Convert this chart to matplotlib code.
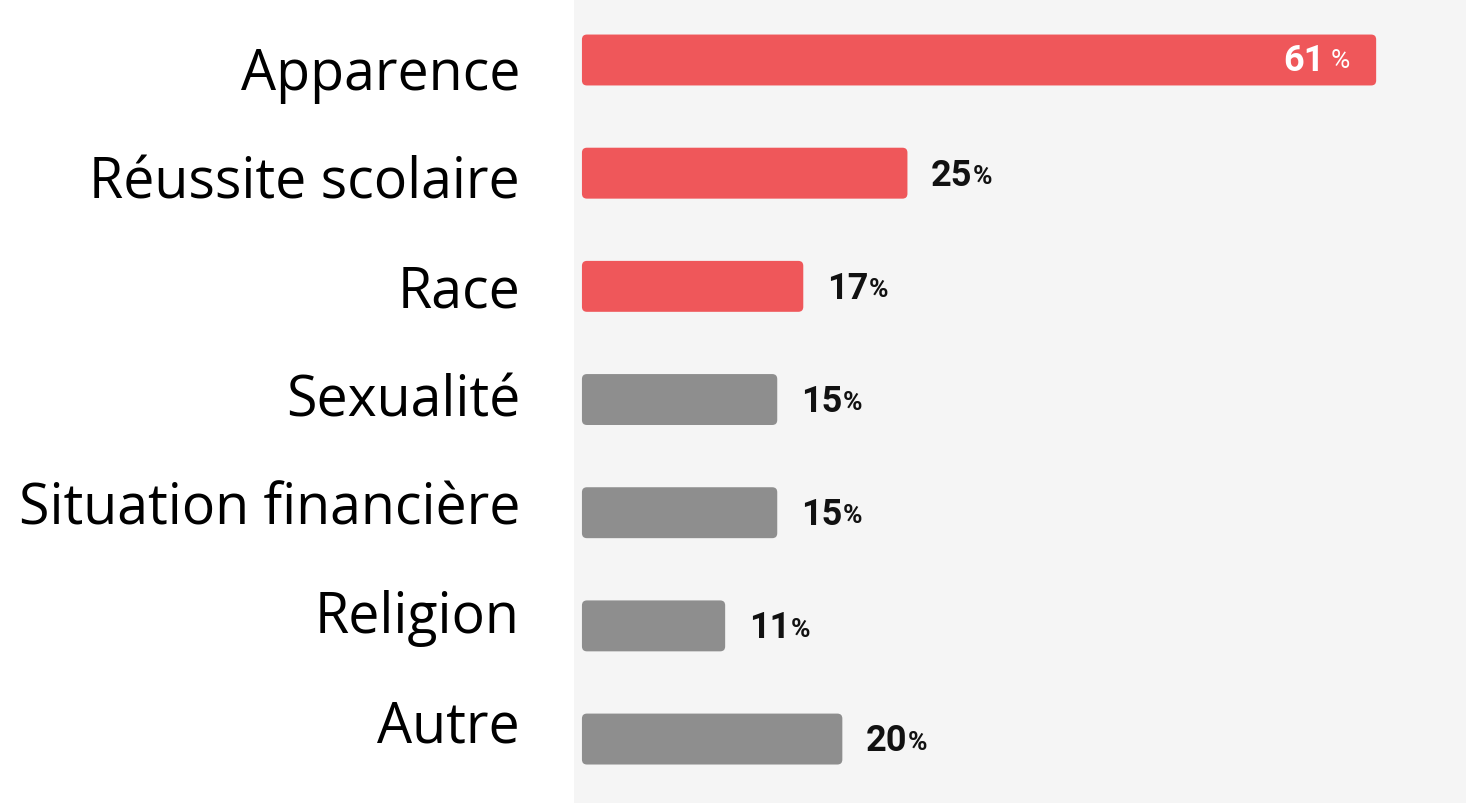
"""Horizontal bar chart: sujets de harcèlement (French labels, rounded bars)."""

import matplotlib
matplotlib.use("Agg")
import matplotlib.pyplot as plt
from matplotlib.patches import FancyBboxPatch


# ===============================
# Data
# ===============================
categories = ["Apparence", "Réussite scolaire", "Race", "Sexualité",
              "Situation financière", "Religion", "Autre"]
values = [61, 25, 17, 15, 15, 11, 20]
highlighted = [True, True, True, False, False, False, False]

RED = "#EF575A"
GREY = "#8E8E8E"
BG = "#F5F5F5"

W, H = 1466, 804
fig = plt.figure(figsize=(W / 100, H / 100), dpi=100)
fig.patch.set_facecolor("white")

# axes occupies the grey panel on the right
ax = fig.add_axes([574 / W, 0, 1 - 574 / W, 1])
ax.set_facecolor(BG)
for s in ax.spines.values():
    s.set_visible(False)

ypos = list(range(len(categories)))
colors = [RED if h else GREY for h in highlighted]
bars = ax.barh(ypos, values, height=0.45, color=colors)

ax.set_xlim(-0.61, 67.9)
ax.set_ylim(6.565, -0.539)
ax.set_xticks([])
ax.set_yticks([])

# swap plain rectangles for rounded ones
px_x = (W - 574) / (67.9 + 0.61)
px_y = H / (6.565 + 0.539)
for bar, c in zip(bars, colors):
    bar.set_visible(False)
    x0, y0 = bar.get_x(), bar.get_y()
    w, h = bar.get_width(), bar.get_height()
    ax.add_patch(FancyBboxPatch(
        (x0, y0), w, h,
        boxstyle=f"round,pad=0,rounding_size={5 / px_x}",
        mutation_aspect=px_x / px_y,
        facecolor=c, edgecolor="none"))

# value labels
for y, v in zip(ypos, values):
    if v > 40:
        p = ax.annotate("%", (v, y), xytext=(-19, 0), textcoords="offset points",
                        ha="right", va="center", fontsize=19,
                        family="Roboto", color="white")
        ax.annotate(f"{v}", xycoords=p, xy=(0, 0.5), xytext=(-4, 0),
                    textcoords="offset points", ha="right", va="center",
                    fontsize=26, fontweight="bold", family="Roboto", color="white")
    else:
        t = ax.annotate(f"{v}", (v, y), xytext=(17, -1), textcoords="offset points",
                        ha="left", va="center", fontsize=26, fontweight="bold",
                        family="Roboto", color="#111111")
        ax.annotate("%", xycoords=t, xy=(1, 0.5), xytext=(0.5, -1),
                    textcoords="offset points", ha="left", va="center",
                    fontsize=19, fontweight="bold", family="Roboto", color="#111111")

# category labels (own spacing, slightly tighter than the bars)
for i, name in enumerate(categories):
    base_px = 90 + 108.7 * i
    fig.text(520 / W, 1 - base_px / H, name, ha="right", va="baseline",
             fontsize=40, family="Open Sans", color="black")

plt.savefig("out.png", dpi=100, facecolor="white")
plt.close()
